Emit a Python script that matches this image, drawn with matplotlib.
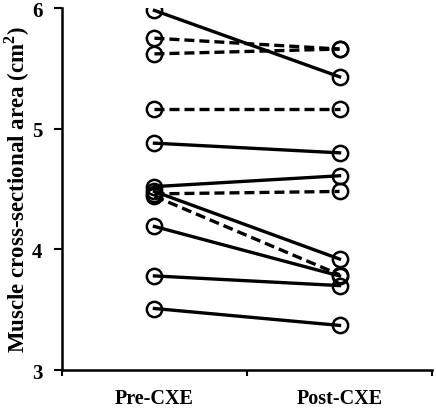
import matplotlib
matplotlib.use("Agg")
import matplotlib.pyplot as plt

groups = ["Pre-CXE", "Post-CXE"]
pre = [5.98, 5.75, 5.62, 5.16, 4.88, 4.52, 4.46, 4.48, 4.44, 4.19, 3.78, 3.51]
post = [5.43, 5.66, 5.66, 5.16, 4.80, 4.61, 4.48, 3.92, 3.79, 3.78, 3.70, 3.37]
dashed = [False, True, True, True, False, False, True, False, True, False, False, False]

plt.rcParams['font.family'] = ['Liberation Serif', 'DejaVu Serif']
plt.rcParams['font.weight'] = 'bold'
plt.rcParams['mathtext.fontset'] = 'custom'
plt.rcParams['mathtext.bf'] = 'Liberation Serif:bold'

fig = plt.figure(figsize=(4.36, 4.10), dpi=100)
ax = fig.add_axes([0.142, 0.095, 0.849, 0.883])

xs = [0.5, 1.5]
for a, b, d in zip(pre, post, dashed):
    ax.plot(xs, [a, b], color='black', lw=2.4,
            ls=(0, (3, 1.5)) if d else '-',
            marker='o', ms=11, mfc='none', mec='black', mew=1.8)

ax.set_xlim(0, 2)
ax.set_ylim(3, 6)
ax.set_yticks([3, 4, 5, 6])
ax.set_xticks([0, 1, 2])
ax.set_xticklabels([])
ax.set_xticks(xs, minor=True)
ax.set_xticklabels(groups, minor=True)
ax.tick_params(axis='x', which='minor', length=0, pad=13, labelsize=14.5)
ax.tick_params(axis='x', which='major', length=4, width=1.5, direction='out')
ax.tick_params(axis='y', length=6, width=1.5, direction='out', labelsize=15, pad=8)

ax.spines['top'].set_visible(False)
ax.spines['right'].set_visible(False)
ax.spines['left'].set_linewidth(1.8)
ax.spines['bottom'].set_linewidth(1.8)

ax.set_ylabel('Muscle cross-sectional area (cm$^\\mathbf{2}$)', fontsize=16.5,
              fontweight='bold')
ax.yaxis.set_label_coords(-0.08, 0.5)

fig.savefig('out.png', dpi=100)
